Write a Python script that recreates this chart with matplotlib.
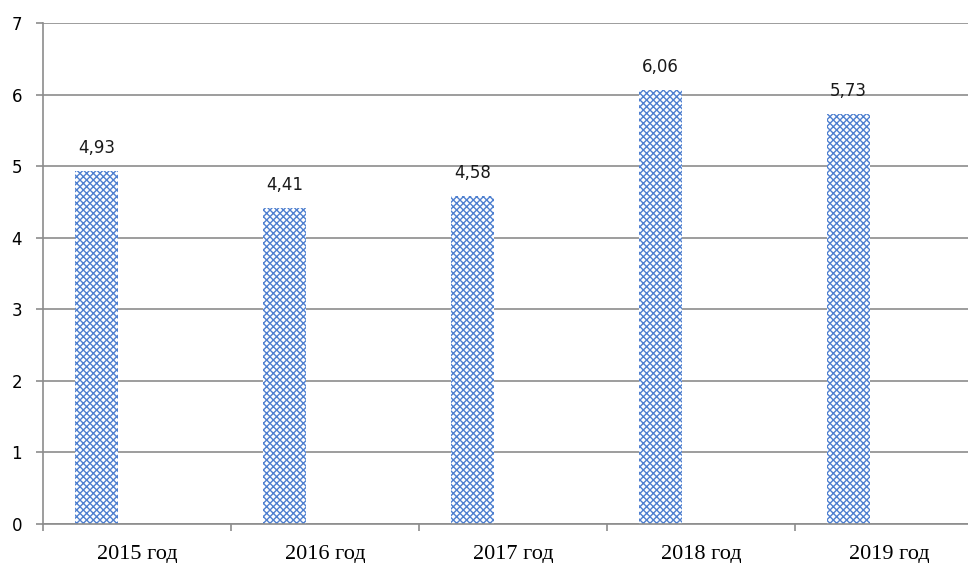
import matplotlib.pyplot as plt
import numpy as np

# data
years = ['2015 год', '2016 год', '2017 год', '2018 год', '2019 год']
values = [4.93, 4.41, 4.58, 6.06, 5.73]
labels = ['4,93', '4,41', '4,58', '6,06', '5,73']

plt.rcParams['hatch.linewidth'] = 1.0
grey = '#8c8c8c'

fig = plt.figure(figsize=(9.68, 5.63), dpi=100)
ax = fig.add_axes([43 / 968, 39 / 563, 925 / 968, 501 / 563])

x = np.arange(len(years))
bars = ax.bar(x - 0.215, values, width=0.229, facecolor='white',
              edgecolor='#4f80d0', linewidth=0, hatch='xxxxx', zorder=2)

for xi, v, t in zip(x, values, labels):
    ax.text(xi - 0.215, v + 0.2, t, ha='center', va='bottom',
            fontsize=12, family='DejaVu Sans', color='#1a1a1a')

ax.set_yticks(range(0, 8))
ax.yaxis.grid(True, color=grey, linewidth=1.2, zorder=0)
ax.set_axisbelow(True)

# category ticks sit between categories, labels in the middle
ax.set_xticks(np.arange(-0.5, 5, 1))
ax.set_xticklabels([])
ax.set_xticks(x, minor=True)
ax.set_xticklabels(years, minor=True, family='Liberation Serif', fontsize=16)
ax.tick_params(axis='x', which='minor', length=0, pad=15)
ax.tick_params(axis='x', which='major', length=5, color=grey, width=1.2)
ax.tick_params(axis='y', length=5, color=grey, width=1.2, pad=10, labelsize=12)

ax.set_ylim(0, 7)
ax.set_xlim(-0.5, 4.42)

for s in ['top', 'right']:
    ax.spines[s].set_visible(False)
for s in ['left', 'bottom']:
    ax.spines[s].set_color(grey)
    ax.spines[s].set_linewidth(1.2)

plt.savefig('out.png', dpi=100)
